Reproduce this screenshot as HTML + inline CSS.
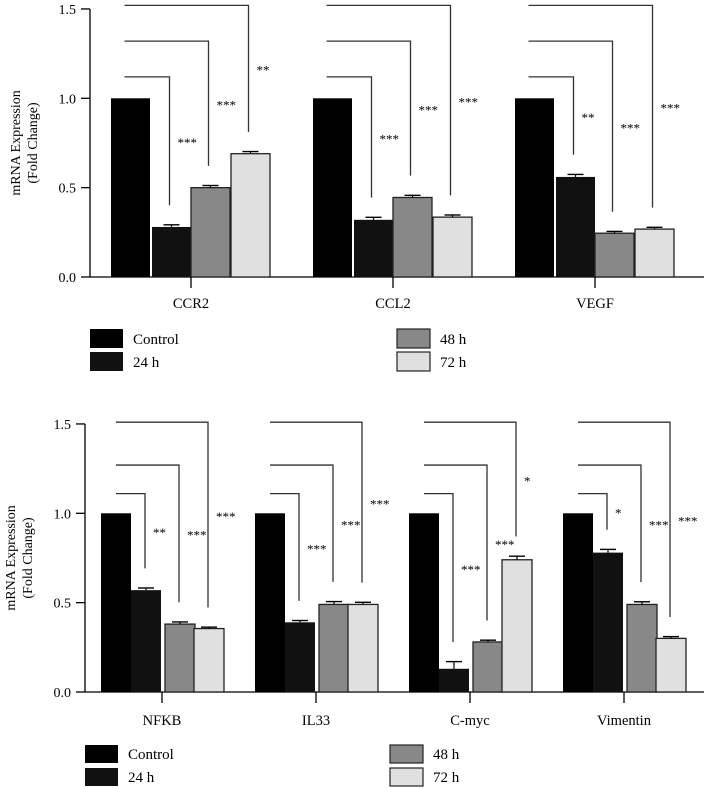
<!DOCTYPE html>
<html><head><meta charset="utf-8"><style>
body{margin:0;background:#fff}
svg{display:block;font-family:"Liberation Serif",serif}
</style></head><body>
<svg id="chart" width="704" height="788" viewBox="0 0 704 788" xmlns="http://www.w3.org/2000/svg"></svg>
<script>
const seriesNames = ["Control","24 h","48 h","72 h"];
const seriesColors = ["#000000","#111111","#888888","#e0e0e0"];
const topCategories = ["CCR2","CCL2","VEGF"];
const topValues = [[1,0.28,0.50,0.69],[1,0.32,0.445,0.335],[1,0.56,0.245,0.268]];
const topErrors = [[0,0.012,0.012,0.012],[0,0.014,0.012,0.012],[0,0.014,0.01,0.01]];
const topStars = [["***","***","**"],["***","***","***"],["**","***","***"]];
const botCategories = ["NFKB","IL33","C-myc","Vimentin"];
const botValues = [[1,0.57,0.38,0.355],[1,0.39,0.49,0.49],[1,0.13,0.28,0.74],[1,0.78,0.49,0.30]];
const botErrors = [[0,0.012,0.012,0.008],[0,0.01,0.016,0.012],[0,0.04,0.01,0.02],[0,0.018,0.015,0.01]];
const botStars = [["**","***","***"],["***","***","***"],["***","***","*"],["*","***","***"]];
const yTicks = [0,0.5,1.0,1.5];
const bracketLevels = [1.12,1.32,1.52];
const bracketLevelsBot = [1.11,1.27,1.51];

const svg = document.getElementById('chart');
const NS = "http://www.w3.org/2000/svg";
function mk(tag, attrs, parent){const e=document.createElementNS(NS,tag);for(const k in attrs)e.setAttribute(k,attrs[k]);(parent||svg).appendChild(e);return e;}

function panel(cfg){
  const g = mk('g',{});
  
  
  const y = v => cfg.y0 - v*cfg.ppu;
  const ax = mk('line',{x1:cfg.ax,y1:y(1.5),x2:cfg.ax,y2:cfg.y0,stroke:'#000','stroke-width':1.3},g);
  
  
  const xa = mk('line',{x1:cfg.ax,y1:cfg.y0,x2:704,y2:cfg.y0,stroke:'#000','stroke-width':1.3},g);
  
  
  yTicks.forEach(t=>{
    mk('line',{x1:cfg.ax-9,y1:y(t),x2:cfg.ax,y2:y(t),stroke:'#000','stroke-width':1.3},g);
    const tl = mk('text',{x:cfg.ax-14,y:y(t)+5,'text-anchor':'end','font-size':14},g);
    tl.textContent = t.toFixed(1);
    
    
  });
  const yt = mk('text',{transform:`translate(${cfg.ax-68},${y(0.75)}) rotate(-90)`,'text-anchor':'middle','font-size':14},g);
  
  
  const t1 = mk('tspan',{x:0,dy:-2},yt); t1.textContent='mRNA Expression';
  const t2 = mk('tspan',{x:0,dy:17},yt); t2.textContent='(Fold Change)';
  cfg.cats.forEach((cat,i)=>{
    const c = cfg.c0 + i*cfg.step;
    const centers=[];
    cfg.vals[i].forEach((v,s)=>{
      const x = c + cfg.offs[s];
      centers.push(x+cfg.w/2);
      const r = mk('rect',{x:x,y:y(v),width:cfg.w,height:v*cfg.ppu,fill:seriesColors[s],stroke:s>=2?'#222':'none','stroke-width':1.3},g);
      
      
      const e = cfg.errs[i][s];
      if(e>0){
        mk('line',{x1:x+cfg.w/2,y1:y(v),x2:x+cfg.w/2,y2:y(v+e),stroke:'#000','stroke-width':1.2},g);
        mk('line',{x1:x+cfg.w/2-8,y1:y(v+e),x2:x+cfg.w/2+8,y2:y(v+e),stroke:'#000','stroke-width':1.4},g);
      }
    });
    mk('line',{x1:c,y1:cfg.y0,x2:c,y2:cfg.y0+11,stroke:'#000','stroke-width':1.3},g);
    const cl = mk('text',{x:c,y:cfg.y0+cfg.labOff,'text-anchor':'middle','font-size':14.5},g);
    cl.textContent = cat;
    
    
    for(let k=0;k<3;k++){
      const vx = centers[k+1]-cfg.shift;
      const top = y(cfg.levels[k]);
      const bot = y(cfg.vals[i][k+1]+cfg.errs[i][k+1]+0.11);
      const p = mk('polyline',{points:`${centers[0]-cfg.lshift},${top} ${vx},${top} ${vx},${bot}`,fill:'none',stroke:'#333','stroke-width':1.3},g);
      
      
      const st = mk('text',{x:vx+8,y:(top+bot)/2+6,'font-size':13},g);
      st.textContent = cfg.stars[i][k];
      
      
    }
  });
  cfg.legend.forEach((L,s)=>{
    const r = mk('rect',{x:L[0],y:L[1],width:cfg.lw,height:cfg.lh,fill:seriesColors[s],stroke:s>=2?'#222':'none','stroke-width':1.2},g);
    
    
    const t = mk('text',{x:L[0]+cfg.lw+10,y:L[1]+cfg.lh-4,'font-size':15},g);
    t.textContent = seriesNames[s];
    
    
  });
}
panel({name:'top-chart',ax:90,y0:277,ppu:178.7,c0:191,step:202,w:39,offs:[-80,-39,0,40],labOff:31,
  cats:topCategories,vals:topValues,errs:topErrors,stars:topStars,levels:bracketLevels,shift:2,lshift:6,
  lw:33,lh:19,legend:[[90,329],[90,352],[397,329],[397,352]]});
panel({name:'bottom-chart',ax:85,y0:692,ppu:178.7,c0:162,step:154,w:30,offs:[-61,-31,3,32],labOff:33,
  cats:botCategories,vals:botValues,errs:botErrors,stars:botStars,levels:bracketLevelsBot,shift:1,lshift:0,
  lw:33,lh:18,legend:[[85,745],[85,768],[390,745],[390,768]]});
</script>
</body></html>
